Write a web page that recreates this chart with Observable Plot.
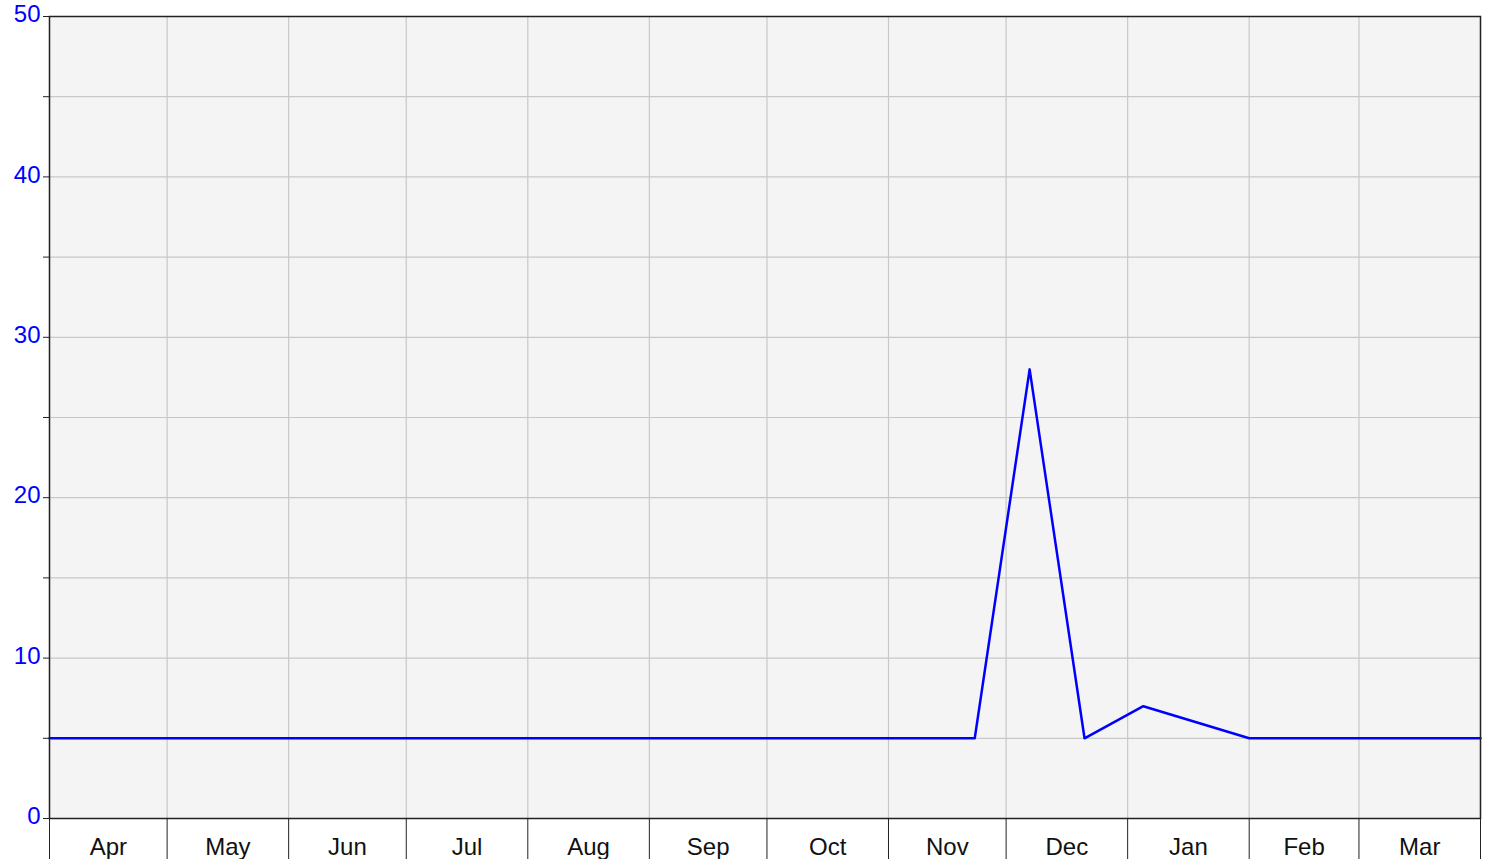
<!DOCTYPE html>
<html>
<head>
<meta charset="utf-8">
<script src="https://cdn.jsdelivr.net/npm/d3@7"></script>
<script src="https://cdn.jsdelivr.net/npm/@observablehq/plot@0.6"></script>
<style>
  html, body { margin: 0; padding: 0; background: #ffffff; }
  #chart svg { display: block; }
</style>
</head>
<body>
<div id="chart"></div>
<script>
// Data
const pointDates = ["2012-04-01", "2012-11-23", "2012-12-07", "2012-12-21", "2013-01-05", "2013-02-01", "2013-04-01"];
const pointValues = [5, 5, 28, 5, 7, 5, 5];
const monthLabels = ["Apr", "May", "Jun", "Jul", "Aug", "Sep", "Oct", "Nov", "Dec", "Jan", "Feb", "Mar"];
const yTicks = [0, 5, 10, 15, 20, 25, 30, 35, 40, 45, 50];
const yLabelTicks = [0, 10, 20, 30, 40, 50];

const start = new Date("2012-04-01T00:00:00Z");
const end = new Date("2013-04-01T00:00:00Z");
const monthStarts = d3.utcMonth.range(start, d3.utcDay.offset(end, 1));
const monthMids = monthStarts.slice(0, -1).map((d, i) => new Date((+d + +monthStarts[i + 1]) / 2));

const data = pointDates.map((d, i) => ({date: new Date(d + "T00:00:00Z"), value: pointValues[i]}));

const chart = Plot.plot({
  width: 1486,
  height: 859,
  marginLeft: 49,
  marginRight: 6,
  marginTop: 16,
  marginBottom: 41,
  style: {fontFamily: "'Liberation Sans', Arial, sans-serif", fontSize: "24px", background: "#ffffff", overflow: "visible"},
  x: {type: "utc", domain: [start, end]},
  y: {domain: [0, 50]},
  marks: [
    Plot.frame({fill: "#f4f4f4"}),
    Plot.gridY(yTicks, {stroke: "#c8c8c8", strokeOpacity: 1, strokeWidth: 1.2}),
    Plot.gridX(monthStarts, {stroke: "#c8c8c8", strokeOpacity: 1, strokeWidth: 1.2}),
    Plot.line(data, {x: "date", y: "value", stroke: "#0000ff", strokeWidth: 2.5}),
    Plot.frame({stroke: "#222222", strokeWidth: 1.5}),
    Plot.axisY(yTicks, {
      tickSize: 6, label: null, text: null, stroke: "#222222"
    }),
    Plot.axisY(yLabelTicks, {
      tickSize: 0, tickPadding: 9, label: null, dy: -2,
      tickFormat: d => String(d), fill: "#0000ff"
    }),
    Plot.axisX(monthStarts, {
      tickSize: 41, label: null, tickFormat: () => "", stroke: "#222222"
    }),
    Plot.axisX(monthMids, {
      tickSize: 0, tickPadding: 19, label: null, fill: "#111111",
      tickFormat: d => monthLabels[monthMids.findIndex(m => +m === +d)]
    })
  ]
});
document.getElementById("chart").appendChild(chart);
</script>
</body>
</html>
